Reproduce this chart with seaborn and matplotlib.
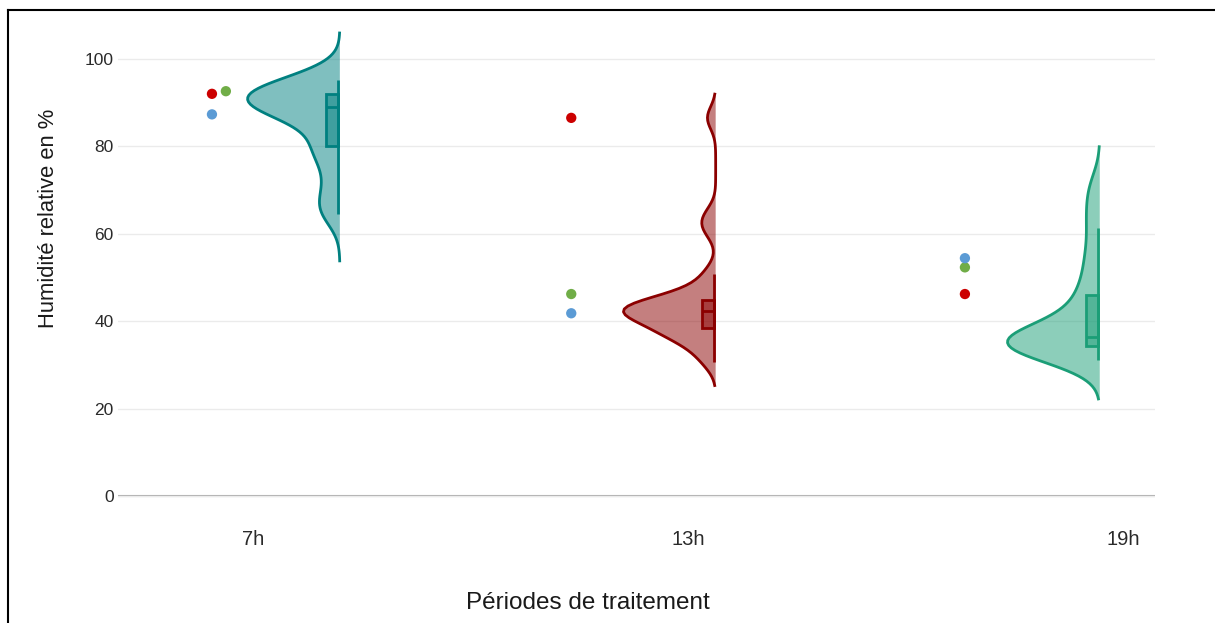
import numpy as np
import pandas as pd
from matplotlib import pyplot as plt
from matplotlib import cbook
from matplotlib.colors import to_rgba
from matplotlib.lines import Line2D
import seaborn as sns

# Relative humidity readings per treatment period
periods = ["7h", "13h", "19h"]
hum_7h = [64.5, 66.5, 71, 76, 79.5, 80.4, 84.5, 87, 88.2, 88.6, 89.2, 89.8,
          90.4, 91.0, 91.8, 92.4, 93.0, 93.8, 94.5, 95.2]
hum_13h = [30.7, 33.5, 35.5, 36.8, 37.5, 37.9, 38.5, 40, 41, 41.5, 41.8, 42.1,
           42.5, 42.8, 43.2, 43.6, 44.2, 44.6, 45.5, 47.5, 50.7, 61, 64, 86.5]
hum_19h = [31.1, 32.5, 33.0, 33.5, 33.9, 34.1, 34.4, 35.0, 35.4, 35.8, 36.0,
           36.2, 36.4, 37.5, 39, 41, 43, 45.3, 48, 52, 56, 61.3, 66, 71]

# Mean values of the three series shown as dots
series_names = ["S1", "S2", "S3"]
s1_means = [92.0, 86.5, 46.2]
s2_means = [92.6, 46.2, 52.3]
s3_means = [87.3, 41.8, 54.4]

# Styling / layout
violin_colors = ["#008080", "#8b0000", "#1b9e77"]
dot_colors = ["#cc0000", "#70ad47", "#5b9bd5"]
bw_adjust = [0.72, 0.42, 0.66]
cuts = [2.9, 2.1, 2.25]
violin_edge = [0.20, 0.064, -0.053]   # offset of the flat edge from the tick
dot_shift = [-0.094, -0.268, -0.363]
dot_nudge = {(1, 0): 0.032}
HALF_W = 0.212
BOX_W = 0.028

plt.rcParams['font.family'] = ['Liberation Sans', 'DejaVu Sans']

fig = plt.figure(figsize=(12.15, 6.23), dpi=100)
W, H = 1215, 623
ax = fig.add_axes([118 / W, 1 - 505 / H, (1155 - 118) / W, (505 - 30) / H])

all_vals = [hum_7h, hum_13h, hum_19h]
for i, vals in enumerate(all_vals):
    edge = i + violin_edge[i]
    c = violin_colors[i]
    n_before = len(ax.collections)
    # split without hue -> left half only, flat side at pos + width/2
    sns.violinplot(x=np.full(len(vals), edge - HALF_W / 2), y=vals, native_scale=True,
                   split=True, inner=None, color=c, linewidth=0,
                   width=HALF_W, density_norm="width", bw_adjust=bw_adjust[i],
                   cut=cuts[i], ax=ax)
    for coll in ax.collections[n_before:]:
        coll.set_facecolor(to_rgba(c, 0.5))
        coll.set_edgecolor("none")
        # outline only the curved side
        verts = coll.get_paths()[0].vertices
        flat = verts[:, 0].max()
        curve = verts[verts[:, 0] < flat - 1e-9]
        curve = curve[np.argsort(curve[:, 1])]
        ax.plot(curve[:, 0], curve[:, 1], color=c, linewidth=2, zorder=2)

    # narrow box hugging the flat edge of the half violin
    wx = edge - 0.004
    sns.boxplot(x=np.full(len(vals), wx - BOX_W / 2), y=vals, native_scale=True,
                width=BOX_W, showcaps=False, showfliers=False, ax=ax,
                boxprops=dict(facecolor=to_rgba(c, 0.5), edgecolor=c, linewidth=2),
                medianprops=dict(color=c, linewidth=2),
                whiskerprops=dict(visible=False))
    st = cbook.boxplot_stats(np.array(vals))[0]
    ax.vlines(wx, st["whislo"], st["whishi"], color=c, linewidth=2, zorder=3)

# dots
rows = []
for j, (name, means) in enumerate(zip(series_names, [s1_means, s2_means, s3_means])):
    for i, v in enumerate(means):
        rows.append({"xpos": i + dot_shift[i] + dot_nudge.get((j, i), 0),
                     "value": v, "serie": name})
dots = pd.DataFrame(rows)
sns.scatterplot(data=dots, x="xpos", y="value", hue="serie",
                palette=dict(zip(series_names, dot_colors)), s=55,
                edgecolor="none", legend=False, ax=ax, zorder=4)

ax.set_xlim(-0.31, 2.074)
ax.set_ylim(-2.06, 106.6)
ax.set_xticks([0, 1, 2])
ax.set_xticklabels(periods)
ax.set_yticks([0, 20, 40, 60, 80, 100])
for sp in ax.spines.values():
    sp.set_visible(False)
ax.grid(axis="y", color="#ebebeb", linewidth=1)
ax.set_axisbelow(True)
ax.axhline(0, color="#aaaaaa", linewidth=1.5, zorder=0.5)
ax.tick_params(axis="both", length=0, labelcolor="#2a2a2a")
ax.tick_params(axis="x", pad=18, labelsize=14.5)
ax.tick_params(axis="y", pad=3, labelsize=12.5)
ax.set_xlabel("Périodes de traitement", fontsize=17.5, color="#1a1a1a")
ax.set_ylabel("Humidité relative en %", fontsize=15.8, color="#1a1a1a")
ax.xaxis.set_label_coords(0.453, -0.183)
ax.yaxis.set_label_coords(-0.057, 0.604)

# screenshot frame
fig.add_artist(Line2D([8 / W, 8 / W], [0, 1 - 10 / H], color="black", linewidth=1.5))
fig.add_artist(Line2D([8 / W, 1], [1 - 10 / H, 1 - 10 / H], color="black", linewidth=1.5))

fig.savefig("out.png", dpi=100)
